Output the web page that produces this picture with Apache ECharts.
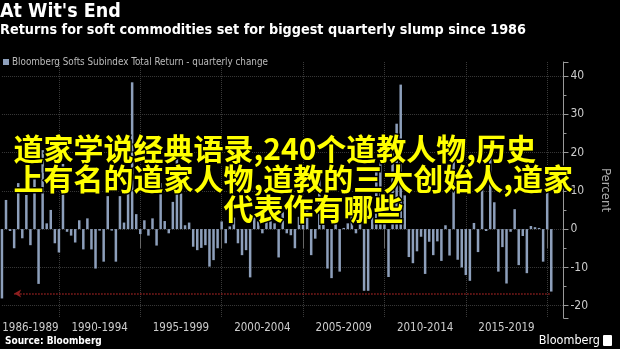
<!DOCTYPE html>
<html>
<head>
<meta charset="utf-8">
<script src="https://cdn.jsdelivr.net/npm/echarts@6/dist/echarts.min.js"></script>
<style>
html,body{margin:0;padding:0;background:#000;}
#c{width:620px;height:349px;}
</style>
</head>
<body>
<div id="c"></div>
<script>
// Quarterly change (%) of Bloomberg Softs Subindex Total Return, 1986Q2 .. 2020Q1
const startYear = 1986, startQuarter = 2;
const values = [
  -18.1, 7.6, -0.5, -5.0, 12, -2.4, 8.9, -4.2, 13, -14.3,
  20.6, 1.5, 5.0, -3.7, -6.1, 17.0, -0.7, -1.7, -3.5, 2.3,
  -5.3, 2.8, -5.3, -10.3, -0.4, -8.5, 8.6, -0.4, -8.5, 8.6,
  1.7, 9.4, 38.3, 3.9, -1.3, 2.3, -1.7, 2.8, -4.3, 12,
  2.1, -1.1, 7.1, 18.9, 9.3, 1.0, 1.7, -4.6, -5.5, -4.9,
  -4.2, -9.8, -8.1, -5.0, 2.0, -3.7, 0.7, 3.0, -3.7, -6.8,
  -5.5, -12.6, 3, 2, -1.1, 2.3, 5, 1.5, -7.4, 4.5,
  -1.1, -1.6, -5, 3.2, 7, 5, -6.8, -2.5, 13, 4,
  -10.3, -12.8, 6, -11.1, 0.3, 1.5, 4.1, -1.1, 6, -16.1,
  -16.1, 3, 15.6, 18, 5, -12.5, 21.5, 27.5, 37.7, 8.8,
  -7.3, -8.9, -5.8, -2.0, -11.7, -3.3, -6.8, -3.2, -8.3, 1.0,
  -6.9, 18, -8, -10, -12, -13.5, 1.6, -6, 11, -0.5,
  20.6, 7, -11.1, -4.7, -14.2, -0.7, 5.2, -9.4, -1.8, -11.5,
  0.8, 0.5, 0.3, -8.5, 10.6, -16.3
];
const slumpLevel = -16.8;
const periods = [
  ['1986-1989', 1986, 1989], ['1990-1994', 1990, 1994], ['1995-1999', 1995, 1999],
  ['2000-2004', 2000, 2004], ['2005-2009', 2005, 2009], ['2010-2014', 2010, 2014],
  ['2015-2019', 2015, 2019]
];
const yTicks = [-20, -10, 0, 10, 20, 30, 40];
const overlayLines = [
  '道家学说经典语录,240个道教人物,历史',
  '上有名的道家人物,道教的三大创始人,道家',
  '代表作有哪些'
];

// categories: quarter-end labels, padded with 3 empty quarters at the right edge
const categories = [];
{
  let y = startYear, q = startQuarter;
  for (let i = 0; i < values.length + 3; i++) {
    categories.push(y + 'Q' + q);
    q++; if (q > 4) { q = 1; y++; }
  }
}
const dividerIdx = periods.map(p => categories.indexOf(p[2] + 'Q4'));
const labelIdx = periods.map((p, k) => {
  const a = k === 0 ? 0 : categories.indexOf((p[1] - 1) + 'Q4');
  return Math.round((a + dividerIdx[k]) / 2);
});

const chart = echarts.init(document.getElementById('c'), null, {renderer: 'canvas'});
const narrow = '"DejaVu Sans Condensed", "Liberation Sans Narrow", sans-serif';
const boldFont = '"DejaVu Sans Condensed", "DejaVu Sans", sans-serif';

chart.setOption({
  backgroundColor: '#000',
  animation: false,
  title: [
    {text: "At Wit's End", left: 0, top: 2, padding: 0,
     textStyle: {color: '#fff', fontSize: 19.5, fontWeight: 'bold', fontFamily: boldFont}},
    {text: 'Returns for soft commodities set for biggest quarterly slump since 1986', left: 0, top: 23, padding: 0,
     textStyle: {color: '#fff', fontSize: 14.3, fontWeight: 'bold', fontFamily: boldFont}},
    {text: 'Source: Bloomberg', left: 5, top: 336, padding: 0,
     textStyle: {color: '#fff', fontSize: 10, fontWeight: 'bold', fontFamily: boldFont}},
    {text: 'Bloomberg', right: 20, top: 334, padding: 0,
     textStyle: {color: '#fff', fontSize: 12.5, fontWeight: 'normal', fontFamily: narrow}}
  ],
  legend: {
    left: 3, top: 57, padding: 0, itemWidth: 6, itemHeight: 6, itemGap: 4,
    icon: 'rect',
    textStyle: {color: '#bbb', fontSize: 9.8, fontFamily: narrow, padding: [0, 0, 0, -2]},
    data: ['Bloomberg Softs Subindex Total Return - quarterly change']
  },
  grid: {left: 1.4, right: 41.4, top: 62, bottom: 31, containLabel: false},
  xAxis: {
    type: 'category', data: categories, boundaryGap: false,
    axisLine: {show: false},
    axisTick: {show: true, length: 19, interval: (i) => dividerIdx.includes(i),
               lineStyle: {color: '#666'}},
    axisLabel: {
      interval: (i) => labelIdx.includes(i),
      showMinLabel: true, showMaxLabel: true, hideOverlap: false,
      formatter: (v, i) => { const k = labelIdx.indexOf(i); return k >= 0 ? periods[k][0] : ''; },
      color: '#ccc', fontSize: 11.5, fontFamily: narrow, margin: 4
    },
    splitLine: {show: true, interval: (i) => dividerIdx.includes(i),
                lineStyle: {color: '#3a3a3a', type: 'dotted'}}
  },
  yAxis: {
    type: 'value', position: 'right', min: -23.2, max: 43.6,
    minInterval: 10, maxInterval: 10,
    name: 'Percent', nameLocation: 'middle', nameRotate: -90, nameGap: 31,
    nameTextStyle: {color: '#aaa', fontSize: 13, fontFamily: narrow},
    axisLine: {show: true, lineStyle: {color: '#999'}},
    axisTick: {show: true, length: 5, lineStyle: {color: '#999'}},
    minorTick: {show: true, splitNumber: 2, length: 3, lineStyle: {color: '#999'}},
    axisLabel: {
      color: '#ccc', fontSize: 12, fontFamily: narrow, margin: 7,
      showMinLabel: false, showMaxLabel: false,
      formatter: (v) => yTicks.includes(v) ? String(v) : ''
    },
    splitLine: {show: true, showMinLine: false, showMaxLine: false,
                lineStyle: {color: '#3a3a3a', type: 'dotted'}}
  },
  series: [{
    name: 'Bloomberg Softs Subindex Total Return - quarterly change',
    type: 'bar', data: values, barWidth: 2.5, clip: false,
    itemStyle: {color: '#8d9fbb'},
    markLine: {
      silent: true, symbol: ['arrow', 'none'], symbolSize: [6, 7],
      label: {show: false},
      lineStyle: {color: '#8e1f1f', type: 'dotted', width: 1.5},
      data: [[{coord: [categories[3], slumpLevel]}, {coord: [categories[values.length - 1], slumpLevel]}]]
    }
  }],
  graphic: [
    {type: 'text', left: 12, top: 132, silent: true, z: 100,
     style: {text: overlayLines[0], fill: '#ffff00', stroke: '#000', lineWidth: 3,
             font: 'bold 30px "Noto Sans CJK SC"'}},
    {type: 'text', left: 12, top: 162, silent: true, z: 100,
     style: {text: overlayLines[1], fill: '#ffff00', stroke: '#000', lineWidth: 3,
             font: 'bold 30px "Noto Sans CJK SC"'}},
    {type: 'text', left: 222, top: 192, silent: true, z: 100,
     style: {text: overlayLines[2], fill: '#ffff00', stroke: '#000', lineWidth: 3,
             font: 'bold 30px "Noto Sans CJK SC"'}},
    {type: 'rect', right: 8, top: 335, silent: true,
     shape: {width: 9, height: 11, r: 1}, style: {fill: '#fff'}}
  ]
});
</script>
</body>
</html>
